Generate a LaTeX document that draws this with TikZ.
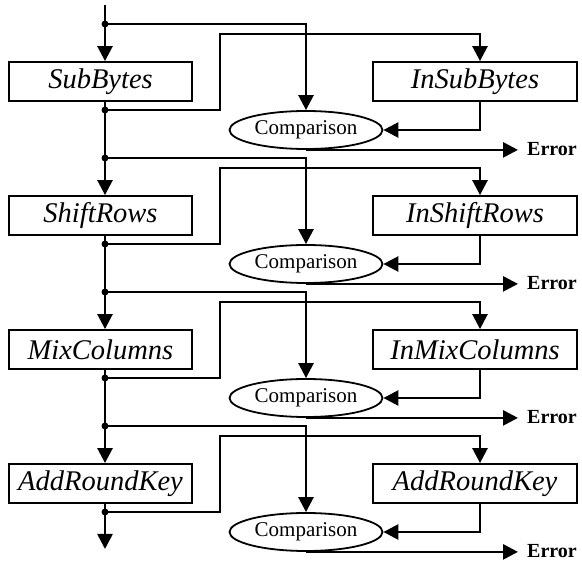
\documentclass[tikz,border=0pt]{standalone}
\usepackage{fontspec}
\setmainfont{Liberation Serif}
\usetikzlibrary{arrows.meta,shapes.geometric}
\begin{document}
\begin{tikzpicture}[x=1pt,y=-1pt,
  wire/.style={line width=2.6pt},
  conn/.style={line width=2.6pt,-{Triangle[length=15pt,width=15pt]}},
  proc/.style={draw,line width=1.8pt,inner sep=0pt,minimum height=39pt,
    font=\fontsize{28.5}{30}\selectfont\itshape},
  lproc/.style={proc,minimum width=183pt},
  rproc/.style={proc,minimum width=204pt},
  cmp/.style={draw,ellipse,line width=1.8pt,inner sep=0pt,minimum width=153pt,
    minimum height=38pt,font=\fontsize{21}{24}\selectfont},
  err/.style={anchor=west,inner sep=0pt,font=\fontsize{20}{24}\selectfont\bfseries},
  jdot/.style={circle,fill,inner sep=0pt,minimum size=7pt}]
\useasboundingbox (0,0) rectangle (582,561);
\coordinate (s) at (105,5);
\coordinate (fin) at (105,549);
\coordinate (rx) at (480,0);
\foreach \i/\L/\R in {0/SubBytes/InSubBytes,1/ShiftRows/InShiftRows,2/MixColumns/InMixColumns,3/AddRoundKey/AddRoundKey}{
  \pgfmathsetmacro\t{24+134*\i}
  \node[lproc] (L\i) at (100.5,\t+57.5) {\L};
  \node[rproc] (R\i) at (475,\t+57.5) {\R};
  \node[cmp] (C\i) at (306,\t+106) {Comparison};
  \node[err] (E\i) at (527,\t+125) {Error};
  \coordinate (d\i) at (105,\t);
  \coordinate (b\i) at (105,\t+86);
  \coordinate (k\i) at (220,\t+10);
  % main path
  \draw[conn] (d\i) -- (d\i |- L\i.north);
  \draw[wire] (b\i |- L\i.south) -- (b\i);
  % input to comparison
  \draw[conn] (d\i) -| (C\i.north);
  % output to inverse
  \draw[conn] (b\i) -| (k\i) -| (rx |- R\i.north);
  % inverse to comparison
  \draw[conn] (rx |- R\i.south) |- (C\i.east);
  % error
  \draw[conn,shorten >=9pt] (C\i.south) -- (C\i.south -| E\i.west);
  \node[jdot] at (d\i) {};
  \node[jdot] at (b\i) {};
}
\draw[wire] (s) -- (d0);
\draw[wire] (b0) -- (d1);
\draw[wire] (b1) -- (d2);
\draw[wire] (b2) -- (d3);
\draw[conn] (b3) -- (fin);
\end{tikzpicture}
\end{document}
